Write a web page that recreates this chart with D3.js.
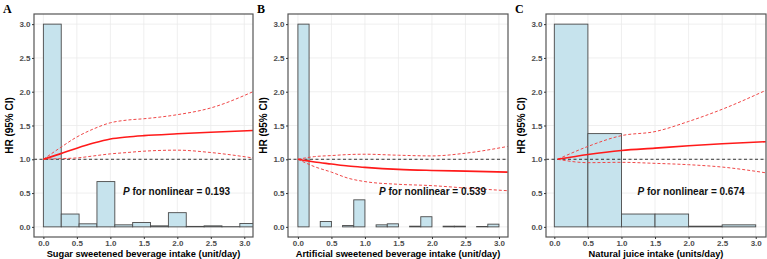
<!DOCTYPE html>
<html lang="en">
<head>
<meta charset="UTF-8">
<title>HR spline panels</title>
<script src="https://cdn.jsdelivr.net/npm/d3@7/dist/d3.min.js"></script>
<style>
  body { margin: 0; background: #fff; }
  text { font-family: "Liberation Sans", Arial, sans-serif; }
  text.letter { font-family: "Liberation Serif", "Times New Roman", serif; }
  .tick text { fill: #4d4d4d; font-size: 8px; font-weight: bold; }
  .tick line { stroke: #333; }
  .grid line { stroke: #ebebeb; stroke-width: 0.8; }
  .bar { fill: #c6e3ed; stroke: #4a4a4a; stroke-width: 0.9; }
</style>
</head>
<body>
<svg id="chart" width="767" height="259"></svg>
<script>

// ---- data ----
var yTicks = [0, 0.5, 1, 1.5, 2, 2.5, 3];
var xTicks = [0, 0.5, 1, 1.5, 2, 2.5, 3];

// panel A: sugar sweetened beverage
var histA = [3.0, 0.19, 0.045, 0.67, 0.03, 0.065, 0.015, 0.21, 0.007, 0.015, 0.003, 0.05];
var binA = 3.2 / 12;
var xA    = [0, 0.25, 0.5, 0.75, 1.0, 1.25, 1.5, 2.0, 2.5, 3.13];
var hrA   = [1.0, 1.08, 1.165, 1.24, 1.30, 1.33, 1.35, 1.377, 1.40, 1.425];
var upA   = [1.0, 1.17, 1.33, 1.45, 1.54, 1.58, 1.60, 1.66, 1.76, 2.0];
var loA   = [1.0, 1.01, 1.02, 1.05, 1.08, 1.10, 1.12, 1.135, 1.10, 1.02];

// panel B: artificial sweetened beverage
var histB = [3.0, 0, 0.08, 0, 0.02, 0.40, 0, 0.03, 0.045, 0, 0.01, 0.15, 0, 0.01, 0.01, 0, 0.005, 0.04];
var binB = 1 / 6;
var xB    = [0, 0.25, 0.5, 0.75, 1.0, 1.5, 2.0, 2.5, 3.13];
var hrB   = [1.0, 0.96, 0.93, 0.90, 0.88, 0.85, 0.835, 0.825, 0.81];
var upB   = [1.0, 1.04, 1.055, 1.07, 1.075, 1.06, 1.05, 1.09, 1.19];
var loB   = [1.0, 0.89, 0.81, 0.72, 0.67, 0.63, 0.61, 0.575, 0.535];

// panel C: natural juice
var histC = [3.0, 1.38, 0.19, 0.19, 0.01, 0.03];
var binC = 0.5;
var xC    = [0.05, 0.5, 1.0, 1.5, 2.0, 2.5, 3.15];
var hrC   = [1.0, 1.07, 1.13, 1.165, 1.20, 1.23, 1.26];
var upC   = [1.0, 1.19, 1.35, 1.41, 1.56, 1.74, 2.02];
var loC   = [1.0, 0.95, 0.955, 0.94, 0.92, 0.885, 0.80];

var pLabels = ["0.193", "0.539", "0.674"];
var xTitles = ["Sugar sweetened beverage intake (unit/day)",
               "Artificial sweetened beverage intake (unit/day)",
               "Natural juice intake (units/day)"];
var letters = ["A", "B", "C"];

// ---- layout ----
var panels = [
  { left: 34,  right: 253, xdom: [-0.14, 3.13],  hist: histA, bin: binA, x: xA, hr: hrA, up: upA, lo: loA, px: 1.19 },
  { left: 288, right: 508, xdom: [-0.148, 3.135], hist: histB, bin: binB, x: xB, hr: hrB, up: upB, lo: loB, px: 1.21 },
  { left: 546, right: 766, xdom: [-0.124, 3.153], hist: histC, bin: binC, x: xC, hr: hrC, up: upC, lo: loC, px: 1.24 }
];
var plotTop = 14, plotBottom = 237;

var svg = d3.select("#chart");
svg.append("rect").attr("width", 767).attr("height", 259).attr("fill", "#fff");

var y = d3.scaleLinear().domain([-0.15, 3.15]).range([plotBottom, plotTop]);

panels.forEach(function(p, i) {
  var x = d3.scaleLinear().domain(p.xdom).range([p.left, p.right]);
  var g = svg.append("g");

  g.append("clipPath").attr("id", "clip" + i)
    .append("rect")
      .attr("x", p.left).attr("y", plotTop)
      .attr("width", p.right - p.left).attr("height", plotBottom - plotTop);

  // grid
  var grid = g.append("g").attr("class", "grid");
  grid.selectAll(".gx").data(xTicks).enter().append("line")
      .attr("x1", function(d) { return x(d); }).attr("x2", function(d) { return x(d); })
      .attr("y1", plotTop).attr("y2", plotBottom);
  grid.selectAll(".gy").data(yTicks).enter().append("line")
      .attr("x1", p.left).attr("x2", p.right)
      .attr("y1", function(d) { return y(d); }).attr("y2", function(d) { return y(d); });

  var inner = g.append("g").attr("clip-path", "url(#clip" + i + ")");

  // histogram
  inner.selectAll(".bar").data(p.hist).enter().append("rect")
      .attr("class", "bar")
      .attr("x", function(d, k) { return x(k * p.bin); })
      .attr("width", function(d, k) { return x((k + 1) * p.bin) - x(k * p.bin); })
      .attr("y", function(d) { return y(d); })
      .attr("height", function(d) { return y(0) - y(d); });

  // reference line
  inner.append("line")
      .attr("x1", p.left).attr("x2", p.right)
      .attr("y1", y(1)).attr("y2", y(1))
      .attr("stroke", "#222").attr("stroke-width", 0.9)
      .attr("stroke-dasharray", "3,2.5");

  var line = d3.line()
      .x(function(d) { return x(d[0]); })
      .y(function(d) { return y(d[1]); })
      .curve(d3.curveMonotoneX);

  [p.up, p.lo].forEach(function(arr) {
    inner.append("path")
        .datum(d3.zip(p.x, arr))
        .attr("d", line)
        .attr("fill", "none")
        .attr("stroke", "#f04848")
        .attr("stroke-width", 1)
        .attr("stroke-dasharray", "3,2");
  });
  inner.append("path")
      .datum(d3.zip(p.x, p.hr))
      .attr("d", line)
      .attr("fill", "none")
      .attr("stroke", "#ff1a1a")
      .attr("stroke-width", 1.6);

  // p-value label
  var t = inner.append("text")
      .attr("x", x(p.px)).attr("y", y(0.52))
      .attr("dy", "0.35em")
      .attr("font-size", "10px").attr("font-weight", "bold").attr("fill", "#111");
  t.append("tspan").attr("font-style", "italic").text("P");
  t.append("tspan").text(" for nonlinear = " + pLabels[i]);

  // border
  g.append("rect")
      .attr("x", p.left).attr("y", plotTop)
      .attr("width", p.right - p.left).attr("height", plotBottom - plotTop)
      .attr("fill", "none").attr("stroke", "#555").attr("stroke-width", 1.2);

  // axes
  g.append("g").attr("transform", "translate(" + p.left + ",0)")
      .call(d3.axisLeft(y).tickValues(yTicks).tickFormat(d3.format(".1f")).tickSize(2).tickPadding(1.5))
      .call(function(a) { a.select(".domain").remove(); });
  g.append("g").attr("transform", "translate(0," + plotBottom + ")")
      .call(d3.axisBottom(x).tickValues(xTicks).tickFormat(d3.format(".1f")).tickSize(2).tickPadding(1.5))
      .call(function(a) { a.select(".domain").remove(); });

  // titles
  g.append("text")
      .attr("x", (p.left + p.right) / 2).attr("y", 256.5)
      .attr("text-anchor", "middle")
      .attr("font-size", "9.3px").attr("font-weight", "bold").attr("fill", "#000")
      .text(xTitles[i]);
  g.append("text")
      .attr("transform", "translate(" + (p.left - 21) + "," + ((plotTop + plotBottom) / 2) + ") rotate(-90)")
      .attr("text-anchor", "middle")
      .attr("font-size", "10px").attr("font-weight", "bold").attr("fill", "#000")
      .text("HR (95% CI)");

  g.append("text")
      .attr("class", "letter")
      .attr("x", p.left - 31).attr("y", 13)
      .attr("font-size", "12px").attr("font-weight", "bold")
      .text(letters[i]);
});

</script>
</body>
</html>
